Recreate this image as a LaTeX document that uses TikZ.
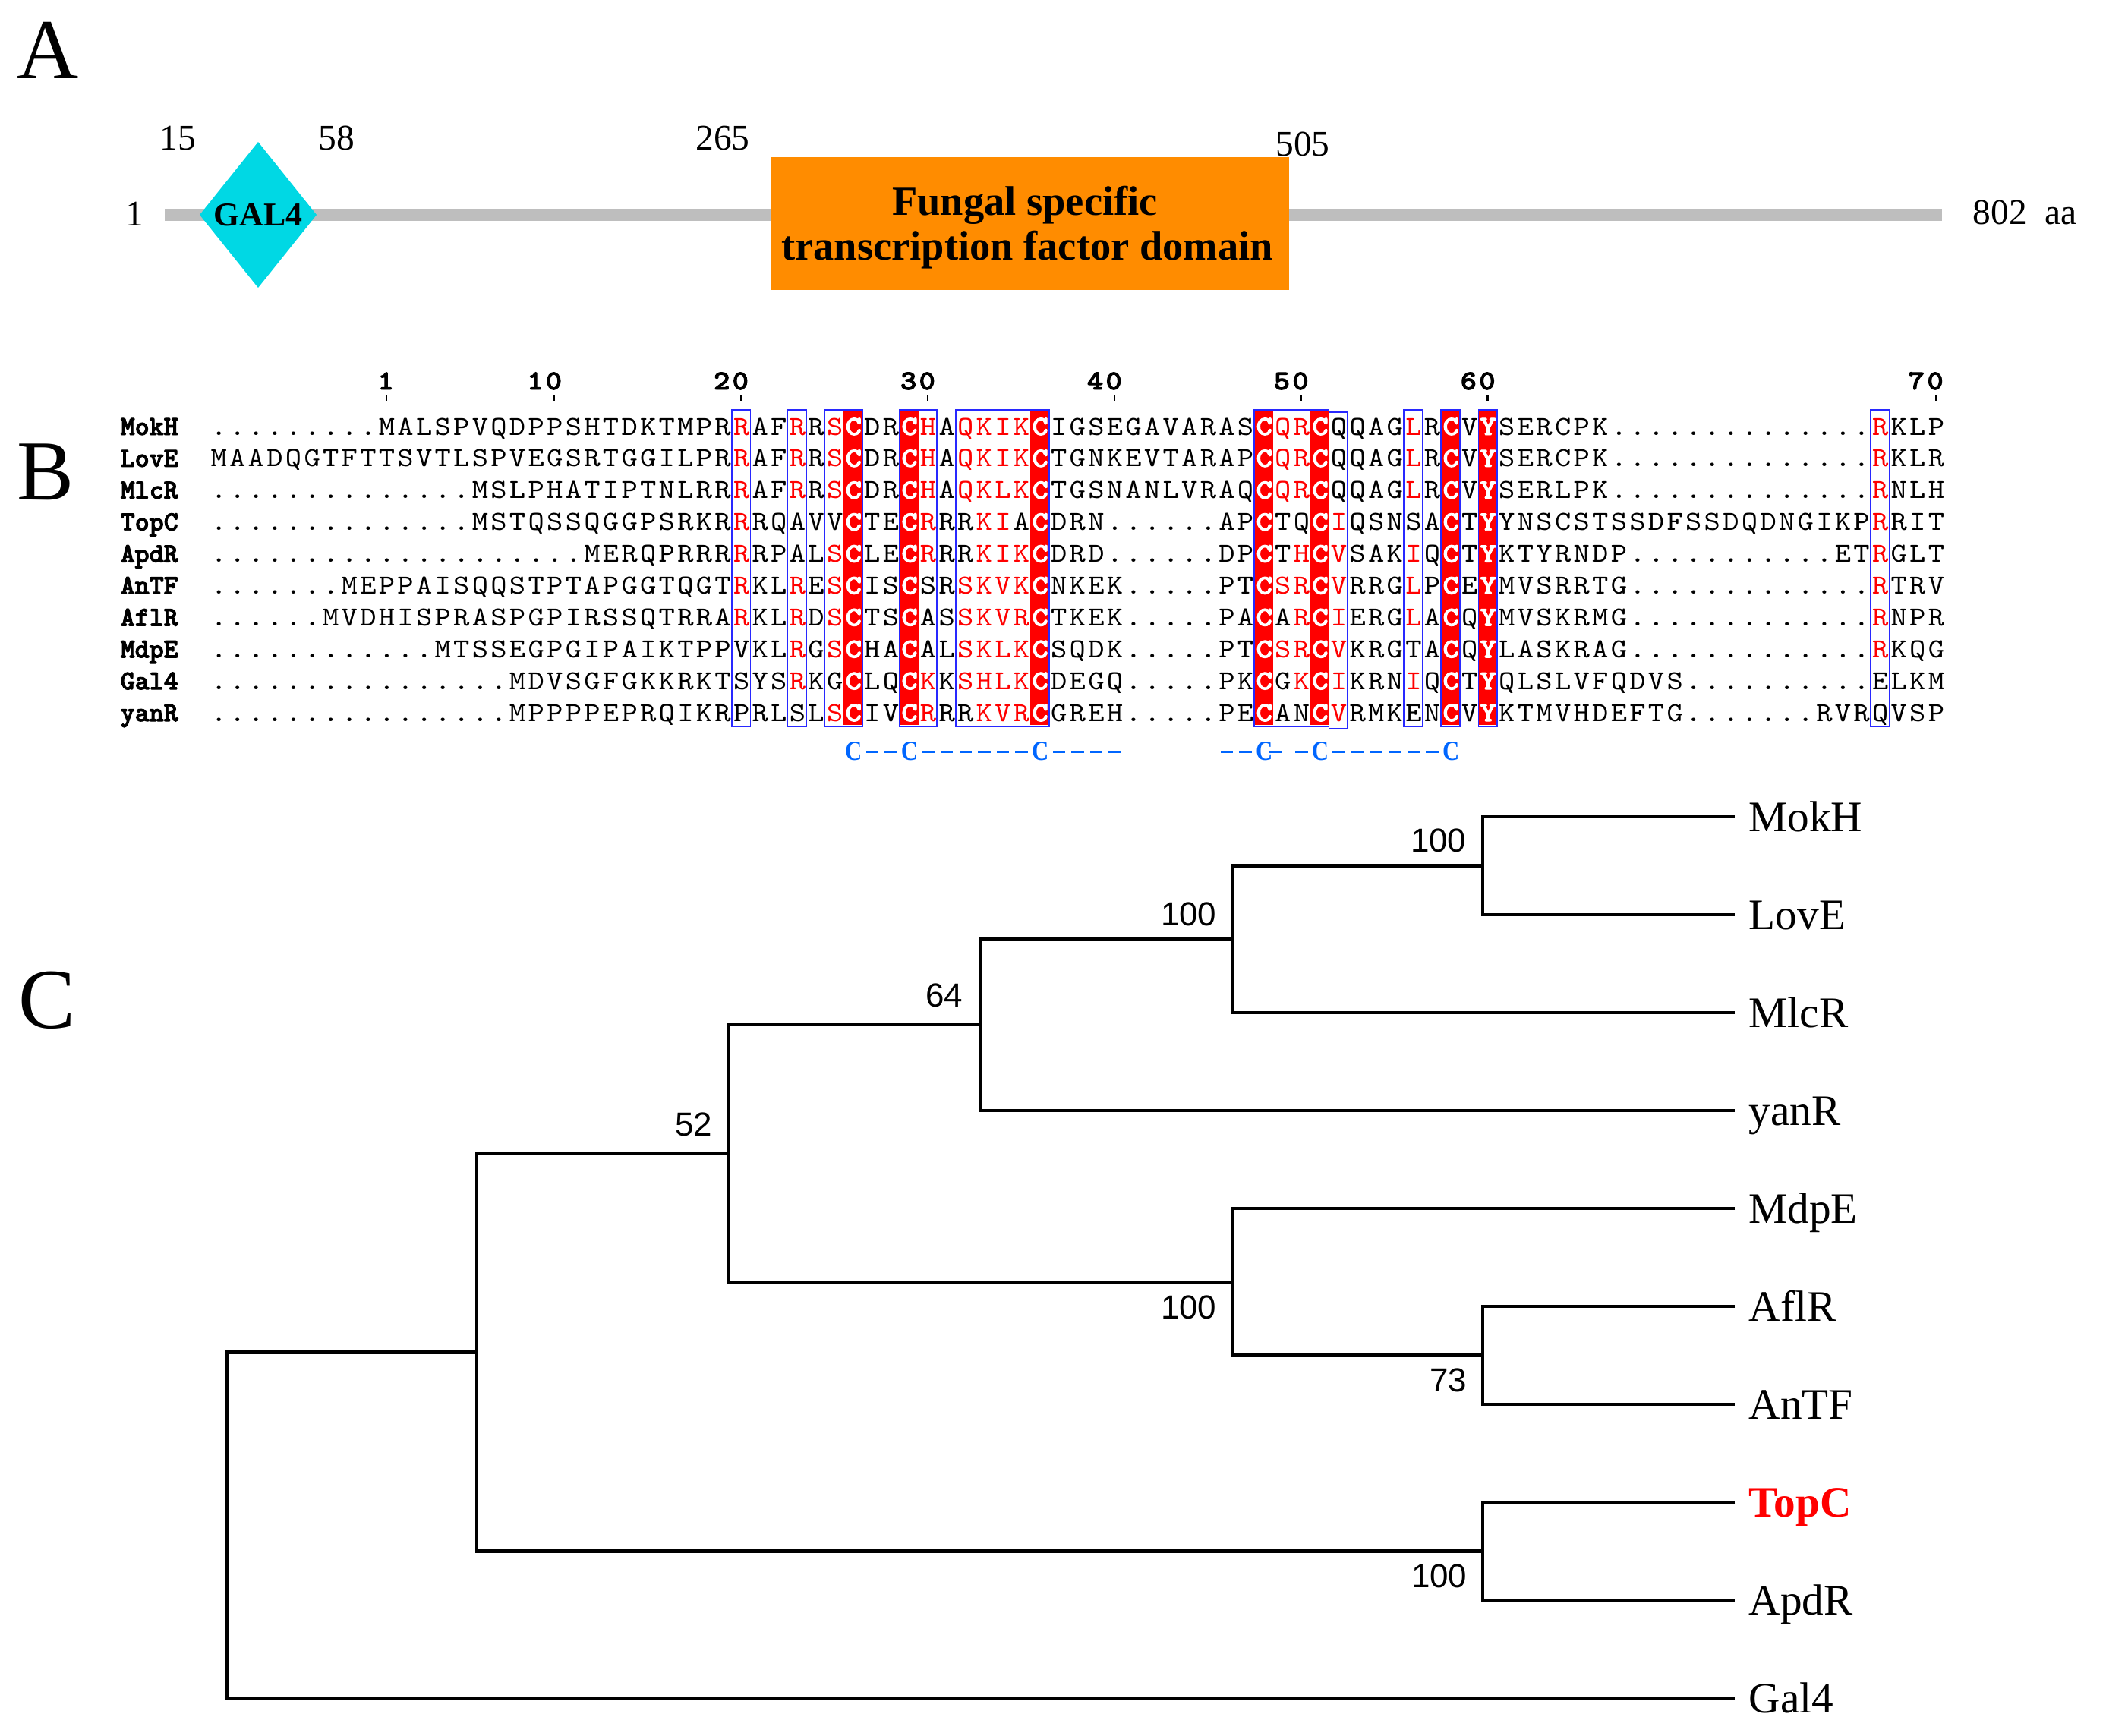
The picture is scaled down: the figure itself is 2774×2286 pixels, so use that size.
\documentclass[tikz,border=0pt]{standalone}
\usepackage{fontspec}
\setmainfont{Liberation Serif}
\newfontfamily\arialfont{Liberation Sans}
\newfontfamily\seqbf{lmmonolt10-bold}[Extension=.otf, FakeBold=2.5]
\usepackage{graphicx}
\usetikzlibrary{calc}
\definecolor{bbgrey}{RGB}{190,190,190}
\definecolor{galcyan}{RGB}{0,216,228}
\definecolor{fungorange}{RGB}{255,140,0}
\definecolor{espred}{RGB}{255,0,0}
\definecolor{espblue}{RGB}{40,40,255}
\definecolor{cysblue}{RGB}{0,102,255}
\newlength\cw \setlength\cw{2.459mm}
\newcommand\seqfont{\ttfamily\fontsize{10.3}{10.3}\selectfont}
\makeatletter
\def\sq@glyph#1{%
  \if*#1\textcolor{white}{\seqbf C}%
  \else\if=#1\textcolor{white}{\seqbf Y}%
  \else\ifnum`#1>`Z\relax\textcolor{espred}{\uppercase{#1}}%
  \else #1\fi\fi\fi}
\def\sq@loop#1{\ifx\relax#1\else\makebox[\cw][c]{\scalebox{1.12}[1]{\sq@glyph{#1}}}\expandafter\sq@loop\fi}
\newcommand\seqrow[1]{\expandafter\sq@loop#1\relax}
\def\cy@glyph#1{%
  \if-#1\rule[0.9mm]{1.65mm}{0.35mm}%
  \else\if<#1\hspace*{-2.0mm}\rule[0.9mm]{1.65mm}{0.35mm}%
  \else\scalebox{0.85}[1]{#1}\fi\fi}
\def\cy@loop#1{\ifx\relax#1\else\makebox[\cw][c]{\cy@glyph{#1}}\expandafter\cy@loop\fi}
\newcommand\cysrow[1]{\cy@loop#1\relax}
\makeatother
\tikzset{
  panel/.style={anchor=base, inner sep=0, font=\fontsize{32}{32}\selectfont},
  numA/.style={inner sep=0, font=\fontsize{13.5}{13.5}\selectfont},
  seqtxt/.style={anchor=base west, inner sep=0, font=\seqfont},
  seqname/.style={anchor=base west, inner sep=0, font=\seqfont\seqbf},
  poslab/.style={anchor=base east, inner sep=0, font=\seqfont\seqbf},
  bluebox/.style={draw=espblue, line width=0.16mm},
  cyslab/.style={anchor=base west, inner sep=0, text=cysblue, font=\bfseries\fontsize{10.3}{10.3}\selectfont},
  branch/.style={line width=0.45mm, line join=miter},
  leaf/.style={anchor=base west, inner sep=0, font=\fontsize{16.3}{16.3}\selectfont},
  bs/.style={inner sep=0, font=\arialfont\fontsize{12.5}{12.5}\selectfont}
}
\begin{document}
\begin{tikzpicture}[x=0.1mm,y=-0.1mm]
\useasboundingbox (0,0) rectangle (2774,2286);
% ---------------- Panel A ----------------
\node[panel] (labA) at (63,103) {A};
\coordinate (bbL) at (217,283);
\coordinate (bbR) at (2558,283);
\draw[bbgrey, line width=1.6mm] (bbL) -- (bbR);
\fill[galcyan] (263,283) -- (340,187) -- (417,283) -- (340,379) -- cycle;
\node[inner sep=0, font=\bfseries\fontsize{12.5}{12.5}\selectfont] (gal4) at (340,283) {GAL4};
\node[fill=fungorange, minimum width=68.3mm, minimum height=17.5mm, inner sep=0] (fsd) at (1356.5,294.5) {};
\node[anchor=base, inner sep=0, font=\bfseries\fontsize{15.5}{15.5}\selectfont] (fsd1) at (1350,283) {Fungal specific};
\node[anchor=base, inner sep=0, font=\bfseries\fontsize{15.5}{15.5}\selectfont] (fsd2) at (1353,342) {transcription factor domain};
\node[numA, anchor=base] (a1) at (177,297) {1};
\node[numA, anchor=base] (a15) at (234,197) {15};
\node[numA, anchor=base] (a58) at (443,197) {58};
\node[numA, anchor=base] (a265) at (952,197) {265};
\node[numA, anchor=base] (a505) at (1716,205) {505};
\node[numA, anchor=base west] (a802) at (2598,295) {802\enspace aa};
% ---------------- Panel B ----------------
\node[panel] (labB) at (60,658) {B};
\foreach \c in {35,38,45,57,60,67,69}
  \fill[espred] ({287.5+(\c-1.5)*24.59},542) rectangle ({287.5+(\c-0.5)*24.59},955);
\foreach \c/\t in {10/1,19/10,29/20,39/30,49/40,59/50,69/60,93/70}{
  \node[poslab] (num\c) at ({287.5+(\c-0.5)*24.59},513) {\seqrow{\t}};
  \fill ({287.5+(\c-1)*24.59-1.3},521) rectangle ({287.5+(\c-1)*24.59+1.3},528);
}
\node[seqname] (nMokH) at (158,573.0) {MokH};
\node[seqname] (nLovE) at (158,614.9) {LovE};
\node[seqname] (nMlcR) at (158,656.8) {MlcR};
\node[seqname] (nTopC) at (158,698.7) {TopC};
\node[seqname] (nApdR) at (158,740.6) {ApdR};
\node[seqname] (nAnTF) at (158,782.5) {AnTF};
\node[seqname] (nAflR) at (158,824.4) {AflR};
\node[seqname] (nMdpE) at (158,866.3) {MdpE};
\node[seqname] (nGal4) at (158,908.2) {Gal4};
\node[seqname] (nyanR) at (158,950.1) {yanR};
\node[seqtxt] (sMokH) at (275.2,573.0) {\seqrow{.........MALSPVQDPPSHTDKTMPRrAFrRs*DR*hAqkik*IGSEGAVARAS*qr*QQAGlR*V=SERCPK..............rKLP}};
\node[seqtxt] (sLovE) at (275.2,614.9) {\seqrow{MAADQGTFTTSVTLSPVEGSRTGGILPRrAFrRs*DR*hAqkik*TGNKEVTARAP*qr*QQAGlR*V=SERCPK..............rKLR}};
\node[seqtxt] (sMlcR) at (275.2,656.8) {\seqrow{..............MSLPHATIPTNLRRrAFrRs*DR*hAqklk*TGSNANLVRAQ*qr*QQAGlR*V=SERLPK..............rNLH}};
\node[seqtxt] (sTopC) at (275.2,698.7) {\seqrow{..............MSTQSSQGGPSRKRrRQAVV*TE*rRRkiA*DRN......AP*TQ*iQSNSA*T=YNSCSTSSDFSSDQDNGIKPrRIT}};
\node[seqtxt] (sApdR) at (275.2,740.6) {\seqrow{....................MERQPRRRrRPALs*LE*rRRkik*DRD......DP*Th*vSAKiQ*T=KTYRNDP...........ETrGLT}};
\node[seqtxt] (sAnTF) at (275.2,782.5) {\seqrow{.......MEPPAISQQSTPTAPGGTQGTrKLrEs*IS*SRskvk*NKEK.....PT*sr*vRRGlP*E=MVSRRTG.............rTRV}};
\node[seqtxt] (sAflR) at (275.2,824.4) {\seqrow{......MVDHISPRASPGPIRSSQTRRArKLrDs*TS*ASskvr*TKEK.....PA*Ar*iERGlA*Q=MVSKRMG.............rNPR}};
\node[seqtxt] (sMdpE) at (275.2,866.3) {\seqrow{............MTSSEGPGIPAIKTPPVKLrGs*HA*ALsklk*SQDK.....PT*sr*vKRGTA*Q=LASKRAG.............rKQG}};
\node[seqtxt] (sGal4) at (275.2,908.2) {\seqrow{................MDVSGFGKKRKTSYSrKG*LQ*kKshlk*DEGQ.....PK*Gk*iKRNiQ*T=QLSLVFQDVS..........ELKM}};
\node[seqtxt] (syanR) at (275.2,950.1) {\seqrow{................MPPPPEPRQIKRPRLSLs*IV*rRRkvr*GREH.....PE*AN*vRMKEN*V=KTMVHDEFTG.......RVRQVSP}};
\foreach \a/\b in {29/29,32/32,34/35,38/39,41/45,57/60,65/65,67/67,69/69,90/90}
  \draw[bluebox] ({287.5+(\a-1.5)*24.59},540) rectangle ({287.5+(\b-0.5)*24.59},957);
\draw[bluebox] ({287.5+(61-1.5)*24.59},543) rectangle ({287.5+(61-0.5)*24.59},960);
\node[cyslab] (cys1) at ({287.5+(35-1.5)*24.59},1001) {\cysrow{C--C------C----}};
\node[cyslab] (cys2) at ({287.5+(55-1.5)*24.59},1001) {\cysrow{--C<-C------C}};
% ---------------- Panel C ----------------
\node[panel] (labC) at (62,1354) {C};
\coordinate (tMokH) at (2285,1076);
\coordinate (tLovE) at (2285,1205);
\coordinate (tMlcR) at (2285,1334);
\coordinate (tyanR) at (2285,1463);
\coordinate (tMdpE) at (2285,1592);
\coordinate (tAflR) at (2285,1721);
\coordinate (tAnTF) at (2285,1850);
\coordinate (tTopC) at (2285,1979);
\coordinate (tApdR) at (2285,2108);
\coordinate (tGal4) at (2285,2237);
\coordinate (N5) at (1953,1140.5);
\coordinate (N4) at (1624,1237.25);
\coordinate (N3) at (1292,1350.1);
\coordinate (N7) at (1953,1785.5);
\coordinate (N6) at (1624,1688.75);
\coordinate (N2) at (960,1519.4);
\coordinate (N8) at (1953,2043.5);
\coordinate (N1) at (628,1781.5);
\coordinate (R0) at (299,2010);
\draw[branch] (tMokH) -| (N5) |- (tLovE);
\draw[branch] (N5) -| (N4) |- (tMlcR);
\draw[branch] (N4) -| (N3) |- (tyanR);
\draw[branch] (tAflR) -| (N7) |- (tAnTF);
\draw[branch] (tMdpE) -| (N6) |- (N7);
\draw[branch] (N3) -| (N2) |- (N6);
\draw[branch] (tTopC) -| (N8) |- (tApdR);
\draw[branch] (N2) -| (N1) |- (N8);
\draw[branch] (N1) -| (R0) |- (tGal4);
\node[leaf] (lMokH) at (2303,1095) {MokH};
\node[leaf] (lLovE) at (2303,1224) {LovE};
\node[leaf] (lMlcR) at (2303,1353) {MlcR};
\node[leaf] (lyanR) at (2303,1482) {yanR};
\node[leaf] (lMdpE) at (2303,1611) {MdpE};
\node[leaf] (lAflR) at (2303,1740) {AflR};
\node[leaf] (lAnTF) at (2303,1869) {AnTF};
\node[leaf, text=espred, font=\bfseries\fontsize{16.3}{16.3}\selectfont] (lTopC) at (2303,1998) {TopC};
\node[leaf] (lApdR) at (2303,2127) {ApdR};
\node[leaf] (lGal4) at (2303,2256) {Gal4};
\node[bs, anchor=south east] (b5) at ($(N5)+(-21,-17)$) {100};
\node[bs, anchor=south east] (b4) at ($(N4)+(-21,-17)$) {100};
\node[bs, anchor=south east] (b3) at ($(N3)+(-23,-22)$) {64};
\node[bs, anchor=south east] (b2) at ($(N2)+(-21,-22)$) {52};
\node[bs, anchor=north east] (b6) at ($(N6)+(-21,17)$) {100};
\node[bs, anchor=north east] (b7) at ($(N7)+(-20,17)$) {73};
\node[bs, anchor=north east] (b8) at ($(N8)+(-20,17)$) {100};
\end{tikzpicture}
\end{document}
